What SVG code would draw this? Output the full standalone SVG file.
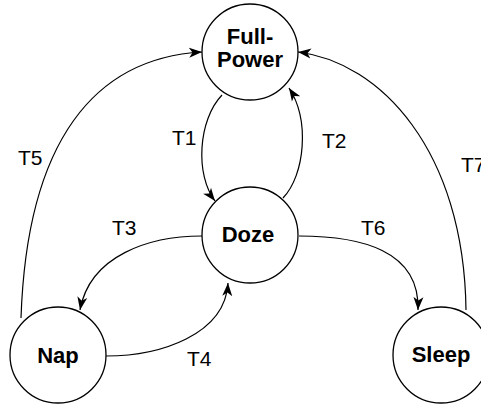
<svg xmlns="http://www.w3.org/2000/svg" width="481" height="404" viewBox="0 0 481 404">
<style>
.node{fill:#fff;stroke:#000;stroke-width:1.3}
.nt{font-family:"Liberation Sans",Arial,sans-serif;font-weight:bold;font-size:22px;text-anchor:middle;fill:#000}
.lbl{font-family:"Liberation Sans",Arial,sans-serif;font-size:21px;fill:#000}
.edge{fill:none;stroke:#000;stroke-width:1.2;marker-end:url(#arr)}
</style>
<defs>
<marker id="arr" markerUnits="userSpaceOnUse" markerWidth="14" markerHeight="12" refX="13" refY="5" orient="auto" viewBox="0 0 14 10">
<path d="M0,0 L13,5 L0,10 L3.5,5 z" fill="#000"/>
</marker>
</defs>
<rect width="481" height="404" fill="#fff"/>
<g id="connectors">
<path class="edge" d="M222,95 C198,120 195,175 215,201"/>
<path class="edge" d="M283,198 C305,175 310,120 289,88"/>
<path class="edge" d="M21,318 C27,140 95,58 202,52"/>
<path class="edge" d="M466,310 C464,150 380,62 298,52"/>
<path class="edge" d="M202,236 C150,236 90,255 80,310"/>
<path class="edge" d="M106,356 C160,356 225,335 228,283"/>
<path class="edge" d="M299,236 C360,236 420,250 418,310"/>
</g>
<g id="labels">
<text class="lbl" x="172" y="145">T1</text>
<text class="lbl" x="322" y="148">T2</text>
<text class="lbl" x="112" y="235">T3</text>
<text class="lbl" x="187" y="366">T4</text>
<text class="lbl" x="18" y="165">T5</text>
<text class="lbl" x="361" y="235">T6</text>
<text class="lbl" x="461" y="172">T7</text>
</g>
<g id="full-power">
<circle class="node" cx="250" cy="52" r="48"/>
<text class="nt" x="250" y="44">Full-</text>
<text class="nt" x="250" y="67">Power</text>
</g>
<g id="doze">
<circle class="node" cx="250" cy="235" r="48"/>
<text class="nt" x="248" y="242">Doze</text>
</g>
<g id="nap">
<circle class="node" cx="58" cy="355" r="48"/>
<text class="nt" x="58" y="363">Nap</text>
</g>
<g id="sleep">
<circle class="node" cx="441" cy="355" r="48"/>
<text class="nt" x="441" y="362">Sleep</text>
</g>
</svg>
